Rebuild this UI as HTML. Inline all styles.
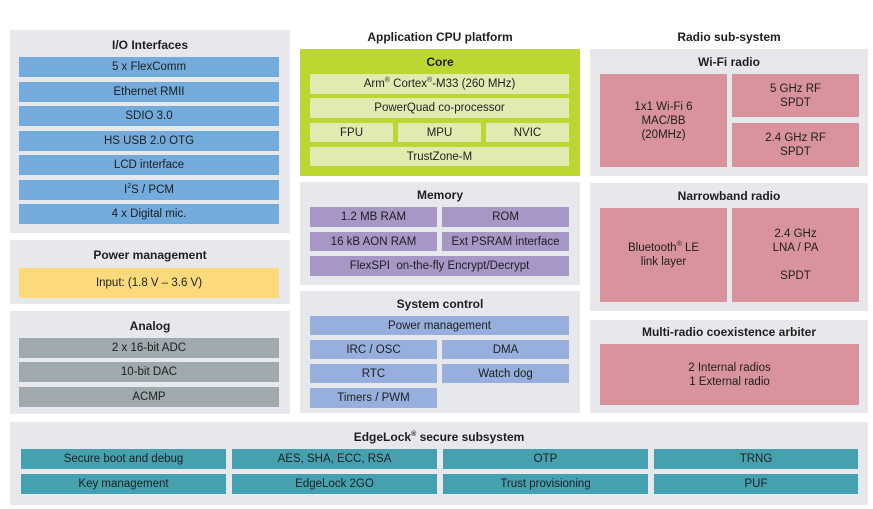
<!DOCTYPE html>
<html><head><meta charset="utf-8"><style>
body{margin:0;width:873px;height:509px;background:#fff;position:relative;overflow:hidden;font-family:"Liberation Sans",Arial,sans-serif;color:#1e1e1e}
div{position:absolute;box-sizing:border-box}
.p{background:#e6e8ec}
.t{font-weight:bold;font-size:12px;text-align:center}
.b{display:flex;align-items:center;justify-content:center;text-align:center;font-size:11.5px;line-height:14px}
.bl{background:#72abdc}.gr{background:#bdd631}.lg{background:#e2eab1}.pu{background:#a697c6}.sb{background:#97afdc}.pk{background:#d8939c}.gy{background:#9fa9ae}.tl{background:#45a1b0}.yl{background:#fcd97b}
sup{font-size:7px;line-height:0}
</style></head><body>
<!-- left -->
<div class="p" style="left:10px;top:30px;width:280px;height:203px"></div>
<div class="t" style="left:10px;top:38px;width:280px">I/O Interfaces</div>
<div class="b bl" style="left:19px;top:57px;width:260px;height:20px">5 x FlexComm</div>
<div class="b bl" style="left:19px;top:82px;width:260px;height:20px">Ethernet RMII</div>
<div class="b bl" style="left:19px;top:106px;width:260px;height:20px">SDIO 3.0</div>
<div class="b bl" style="left:19px;top:131px;width:260px;height:20px">HS USB 2.0 OTG</div>
<div class="b bl" style="left:19px;top:155px;width:260px;height:20px">LCD interface</div>
<div class="b bl" style="left:19px;top:180px;width:260px;height:20px"><span>I<sup>2</sup>S / PCM</span></div>
<div class="b bl" style="left:19px;top:204px;width:260px;height:20px">4 x Digital mic.</div>

<div class="p" style="left:10px;top:240px;width:280px;height:64px"></div>
<div class="t" style="left:10px;top:248px;width:280px">Power management</div>
<div class="b yl" style="left:19px;top:268px;width:260px;height:30px">Input: (1.8 V – 3.6 V)</div>

<div class="p" style="left:10px;top:311px;width:280px;height:103px"></div>
<div class="t" style="left:10px;top:319px;width:280px">Analog</div>
<div class="b gy" style="left:19px;top:338px;width:260px;height:20px">2 x 16-bit ADC</div>
<div class="b gy" style="left:19px;top:362px;width:260px;height:20px">10-bit DAC</div>
<div class="b gy" style="left:19px;top:387px;width:260px;height:20px">ACMP</div>

<!-- middle -->
<div class="t" style="left:300px;top:30px;width:280px">Application CPU platform</div>
<div class="gr" style="left:300px;top:49px;width:280px;height:127px"></div>
<div class="t" style="left:300px;top:55px;width:280px">Core</div>
<div class="b lg" style="left:310px;top:74px;width:259px;height:20px"><span>Arm<sup>®</sup> Cortex<sup>®</sup>-M33 (260 MHz)</span></div>
<div class="b lg" style="left:310px;top:98px;width:259px;height:20px">PowerQuad co-processor</div>
<div class="b lg" style="left:310px;top:123px;width:83px;height:19px">FPU</div>
<div class="b lg" style="left:398px;top:123px;width:83px;height:19px">MPU</div>
<div class="b lg" style="left:486px;top:123px;width:83px;height:19px">NVIC</div>
<div class="b lg" style="left:310px;top:147px;width:259px;height:19px">TrustZone-M</div>

<div class="p" style="left:300px;top:182px;width:280px;height:103px"></div>
<div class="t" style="left:300px;top:188px;width:280px">Memory</div>
<div class="b pu" style="left:310px;top:207px;width:127px;height:20px">1.2 MB RAM</div>
<div class="b pu" style="left:442px;top:207px;width:127px;height:20px">ROM</div>
<div class="b pu" style="left:310px;top:232px;width:127px;height:19px">16 kB AON RAM</div>
<div class="b pu" style="left:442px;top:232px;width:127px;height:19px">Ext PSRAM interface</div>
<div class="b pu" style="left:310px;top:256px;width:259px;height:20px">FlexSPI&nbsp; on-the-fly Encrypt/Decrypt</div>

<div class="p" style="left:300px;top:291px;width:280px;height:122px"></div>
<div class="t" style="left:300px;top:297px;width:280px">System control</div>
<div class="b sb" style="left:310px;top:316px;width:259px;height:19px">Power management</div>
<div class="b sb" style="left:310px;top:340px;width:127px;height:19px">IRC / OSC</div>
<div class="b sb" style="left:442px;top:340px;width:127px;height:19px">DMA</div>
<div class="b sb" style="left:310px;top:364px;width:127px;height:19px">RTC</div>
<div class="b sb" style="left:442px;top:364px;width:127px;height:19px">Watch dog</div>
<div class="b sb" style="left:310px;top:388px;width:127px;height:20px">Timers / PWM</div>

<!-- right -->
<div class="t" style="left:590px;top:30px;width:278px">Radio sub-system</div>
<div class="p" style="left:590px;top:49px;width:278px;height:127px"></div>
<div class="t" style="left:590px;top:55px;width:278px">Wi-Fi radio</div>
<div class="b pk" style="left:600px;top:74px;width:127px;height:93px"><span>1x1 Wi-Fi 6<br>MAC/BB<br>(20MHz)</span></div>
<div class="b pk" style="left:732px;top:74px;width:127px;height:43px"><span>5 GHz RF<br>SPDT</span></div>
<div class="b pk" style="left:732px;top:123px;width:127px;height:44px"><span>2.4 GHz RF<br>SPDT</span></div>

<div class="p" style="left:590px;top:183px;width:278px;height:128px"></div>
<div class="t" style="left:590px;top:189px;width:278px">Narrowband radio</div>
<div class="b pk" style="left:600px;top:208px;width:127px;height:94px"><span>Bluetooth<sup>®</sup> LE<br>link layer</span></div>
<div class="b pk" style="left:732px;top:208px;width:127px;height:94px"><span>2.4 GHz<br>LNA / PA<br><br>SPDT</span></div>

<div class="p" style="left:590px;top:320px;width:278px;height:93px"></div>
<div class="t" style="left:590px;top:325px;width:278px">Multi-radio coexistence arbiter</div>
<div class="b pk" style="left:600px;top:344px;width:259px;height:61px"><span>2 Internal radios<br>1 External radio</span></div>

<!-- bottom -->
<div class="p" style="left:10px;top:422px;width:858px;height:83px"></div>
<div class="t" style="left:10px;top:430px;width:858px">EdgeLock<sup>®</sup> secure subsystem</div>
<div class="b tl" style="left:21px;top:449px;width:205px;height:20px">Secure boot and debug</div>
<div class="b tl" style="left:232px;top:449px;width:205px;height:20px">AES, SHA, ECC, RSA</div>
<div class="b tl" style="left:443px;top:449px;width:205px;height:20px">OTP</div>
<div class="b tl" style="left:654px;top:449px;width:204px;height:20px">TRNG</div>
<div class="b tl" style="left:21px;top:474px;width:205px;height:20px">Key management</div>
<div class="b tl" style="left:232px;top:474px;width:205px;height:20px">EdgeLock 2GO</div>
<div class="b tl" style="left:443px;top:474px;width:205px;height:20px">Trust provisioning</div>
<div class="b tl" style="left:654px;top:474px;width:204px;height:20px">PUF</div>
</body></html>
